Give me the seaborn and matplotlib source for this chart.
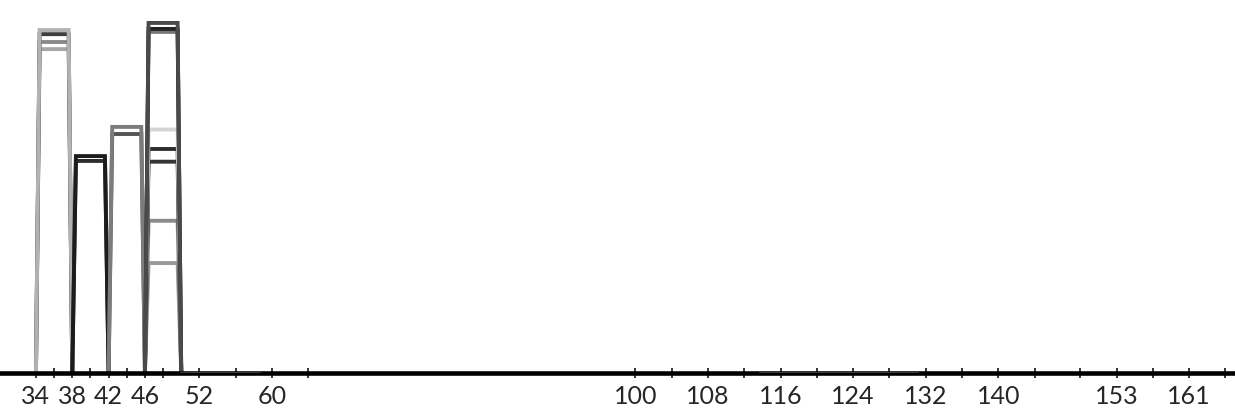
import seaborn as sns
import matplotlib.pyplot as plt
import pandas as pd

# each trace is a flat-topped peak over one 4-unit bin
bin_starts = [34, 34, 34, 34, 38, 38, 42, 42, 46, 46, 46, 46, 46, 46, 46, 46]
heights = [86.6, 88.5, 90.6, 91.7, 56.7, 58.0, 63.9, 65.8,
           29.4, 40.7, 56.5, 59.9, 65.1, 91.2, 92.0, 93.6]
colors = ['#a6a6a6', '#8a8a8a', '#3e3e3e', '#b2b2b2',
          '#2c2c2c', '#1c1c1c', '#545454', '#7c7c7c',
          '#999999', '#8a8a8a', '#353535', '#2e2e2e', '#d4d4d4', '#777777', '#232323', '#4a4a4a']
bin_width = 4
slant = 0.4

# stretches where traces run along the baseline
tail_starts = [50, 113.7]
tail_ends = [58.7, 131.1]

tick_pos = [34, 36, 38, 40, 42, 44, 46, 48, 52, 56, 60, 64,
            100, 104, 108, 112, 116, 120, 124, 128, 132, 136, 140, 144, 149, 153, 157, 161, 165]
tick_labels = ['34', '', '38', '', '42', '', '46', '', '52', '', '60', '',
               '100', '', '108', '', '116', '', '124', '', '132', '', '140', '', '', '153', '', '161', '']

rows = []
for i, (s, h) in enumerate(zip(bin_starts, heights)):
    name = 't%02d' % i
    for x, y in zip([s, s + slant, s + bin_width - slant, s + bin_width], [0, h, h, 0]):
        rows.append((name, x, y))
df = pd.DataFrame(rows, columns=['trace', 'x', 'y'])
names = ['t%02d' % i for i in range(len(heights))]

tails = pd.DataFrame([('b%d' % i, x, 0.0) for i, (a, b) in enumerate(zip(tail_starts, tail_ends)) for x in (a, b)],
                     columns=['trace', 'x', 'y'])

sns.set_style('white')
plt.rcParams['font.family'] = ['Lato', 'DejaVu Sans']

fig = plt.figure(figsize=(12.35, 4.14), dpi=100)
ax = fig.add_axes([0, 40 / 414, 1, 374 / 414])

sns.lineplot(data=df, x='x', y='y', hue='trace', hue_order=names,
             palette=dict(zip(names, colors)), sort=False, estimator=None,
             legend=False, linewidth=2.8, ax=ax)
for line in ax.lines:
    line.set_clip_on(False)
    line.set_solid_joinstyle('miter')

sns.lineplot(data=tails, x='x', y='y', units='trace', color='#3a3a3a', sort=False,
             estimator=None, legend=False, linewidth=1.6, ax=ax, zorder=3)

ax.set_xlim(30.04, 166.05)
ax.set_ylim(0, 100)
for side in ['top', 'left', 'right']:
    ax.spines[side].set_visible(False)
ax.spines['bottom'].set_linewidth(3.3)
ax.spines['bottom'].set_color('black')
ax.set_yticks([])
ax.set_xticks(tick_pos)
ax.set_xticklabels(tick_labels)
ax.tick_params(axis='x', direction='inout', length=7.2, width=1.1, color='black',
               labelsize=18, pad=4, bottom=True)
ax.set_xlabel('')
ax.set_ylabel('')
ax.patch.set_alpha(0)

fig.savefig('out.png', dpi=100, facecolor='white')
